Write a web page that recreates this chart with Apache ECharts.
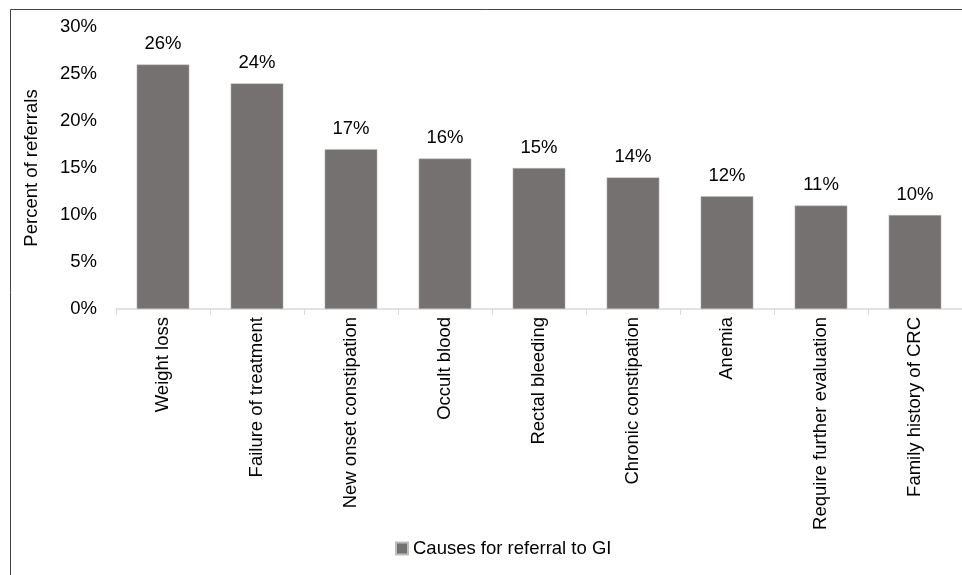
<!DOCTYPE html>
<html><head><meta charset="utf-8">
<script src="https://cdn.jsdelivr.net/npm/echarts@6/dist/echarts.min.js"></script>
<style>html,body{margin:0;padding:0;background:#fff}#c{width:962px;height:575px}</style>
</head><body><div id="c"></div>
<script>
const categories = ["Weight loss","Failure of treatment","New onset constipation","Occult blood","Rectal bleeding","Chronic constipation","Anemia","Require further evaluation","Family history of CRC"];
const values = [26,24,17,16,15,14,12,11,10];
const yTicks = [0,5,10,15,20,25,30];
const seriesName = "Causes for referral to GI";

const chart = echarts.init(document.getElementById('c'));
chart.setOption({
  animation:false,
  textStyle:{fontFamily:'Liberation Sans, Arial, sans-serif'},
  graphic:[{type:'rect',shape:{x:10.5,y:9.5,width:1000,height:700},style:{fill:'none',stroke:'#444',lineWidth:1},silent:true}],
  grid:{left:116,right:0,top:27,bottom:266},
  legend:{bottom:12,left:390,itemWidth:12,itemHeight:12,icon:'rect',itemGap:8,
    textStyle:{fontSize:18.5,color:'#000'},data:[seriesName]},
  xAxis:{type:'category',data:categories,
    axisLine:{lineStyle:{color:'#d9d9d9',width:1.5}},
    axisTick:{show:true,length:6,lineStyle:{color:'#d9d9d9'},alignWithLabel:false},
    axisLabel:{rotate:90,fontSize:18.5,color:'#000',margin:8,interval:0}},
  yAxis:{type:'value',min:0,max:30,interval:5,
    name:'Percent of referrals',nameLocation:'middle',nameGap:75,nameRotate:90,
    nameTextStyle:{fontSize:18.5,color:'#000'},
    axisLine:{show:false},axisTick:{show:false},splitLine:{show:false},
    axisLabel:{fontSize:18.5,color:'#000',margin:19,formatter:v=>yTicks.includes(v)?v+'%':''}},
  series:[{name:seriesName,type:'bar',data:values,barWidth:'56%',
    itemStyle:{color:'#767171',borderColor:'#bdbdbd',borderWidth:0.5},
    label:{show:true,position:'top',distance:11,fontSize:18.5,color:'#000',formatter:p=>p.value+'%'}}]
});
</script></body></html>
